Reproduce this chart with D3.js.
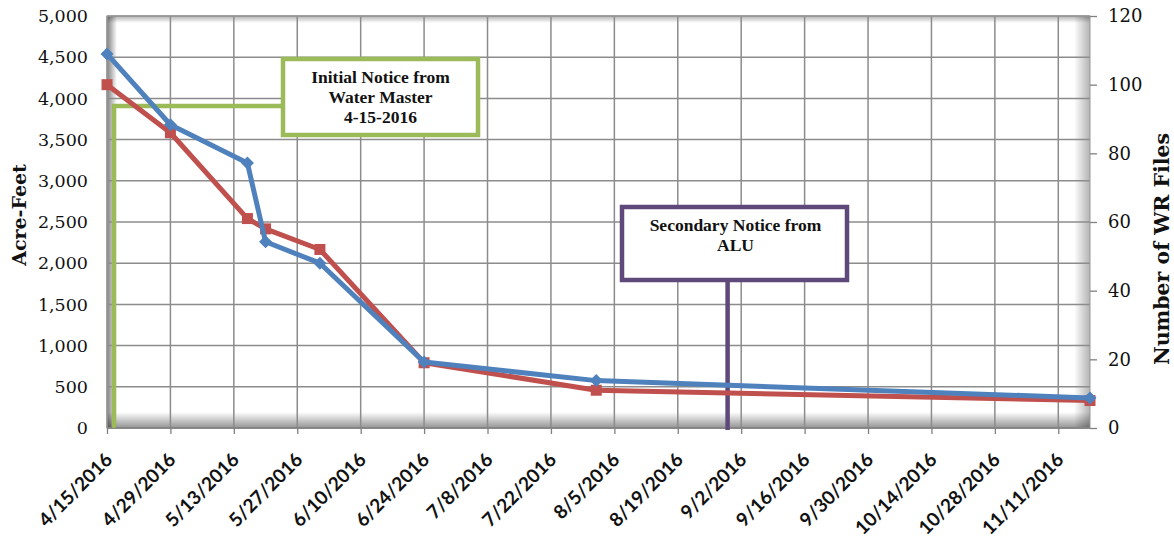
<!DOCTYPE html>
<html><head><meta charset="utf-8">
<script src="https://cdn.jsdelivr.net/npm/d3@7"></script>
<style>body{margin:0;background:#fff;overflow:hidden}</style>
</head><body><svg id="chart" width="1174" height="543"></svg>
<script>
// ---- data ----
const dates = ["2016-04-15","2016-04-29","2016-05-16","2016-05-20","2016-06-01","2016-06-24","2016-08-01","2016-11-18"];
const acreFeet = [4540, 3680, 3215, 2260, 2000, 800, 575, 365];
const wrFiles = [100, 86, 61, 58, 52, 19, 11, 8];
const xTickLabels = ["4/15/2016","4/29/2016","5/13/2016","5/27/2016","6/10/2016","6/24/2016","7/8/2016","7/22/2016","8/5/2016","8/19/2016","9/2/2016","9/16/2016","9/30/2016","10/14/2016","10/28/2016","11/11/2016"];
const leftTicks = [0,500,1000,1500,2000,2500,3000,3500,4000,4500,5000];
const rightTicks = [0,20,40,60,80,100,120];
const leftTitle = "Acre-Feet";
const rightTitle = "Number of WR Files";
const note1Lines = ["Initial Notice from","Water Master","4-15-2016"];
const note1Date = "2016-04-15";
const note2Lines = ["Secondary Notice from","ALU"];
const note2Date = "2016-08-30";

// ---- layout ----
const W = 1174, H = 543;
const plot = {l: 107, r: 1090, t: 16, b: 428};
const parse = d3.timeParse("%Y-%m-%d");
const tparse = d3.timeParse("%m/%d/%Y");
const svg = d3.select("#chart");

const x = d3.scaleTime().domain([parse("2016-04-15"), parse("2016-11-18")]).range([plot.l, plot.r]);
const yL = d3.scaleLinear().domain([0, 5000]).range([plot.b, plot.t]);
const yR = d3.scaleLinear().domain([0, 120]).range([plot.b, plot.t]);
const tickDates = xTickLabels.map(s => tparse(s));

const blueC = "#4F81BD", redC = "#C0504D", gridC = "#8c8c8c";
const serif = "'DejaVu Serif', serif";

// defs: shading gradients
const defs = svg.append("defs");
function grad(id, x1, y1, x2, y2, op) {
  const g = defs.append("linearGradient").attr("id", id)
    .attr("x1", x1).attr("y1", y1).attr("x2", x2).attr("y2", y2);
  g.append("stop").attr("offset", "0%").attr("stop-color", "#000").attr("stop-opacity", op);
  g.append("stop").attr("offset", "100%").attr("stop-color", "#000").attr("stop-opacity", 0);
}
grad("gL", "0", "0", "1", "0", 0.5);
grad("gR", "1", "0", "0", "0", 0.3);
grad("gT", "0", "0", "0", "1", 0.3);
grad("gB", "0", "1", "0", "0", 0.42);

// plot background
svg.append("rect").attr("x", plot.l).attr("y", plot.t).attr("width", plot.r - plot.l).attr("height", plot.b - plot.t).attr("fill", "#fff");
svg.append("rect").attr("x", plot.l).attr("y", plot.t).attr("width", 10).attr("height", plot.b - plot.t).attr("fill", "url(#gL)");
svg.append("rect").attr("x", plot.r - 16).attr("y", plot.t).attr("width", 16).attr("height", plot.b - plot.t).attr("fill", "url(#gR)");
svg.append("rect").attr("x", plot.l).attr("y", plot.t).attr("width", plot.r - plot.l).attr("height", 7).attr("fill", "url(#gT)");
svg.append("rect").attr("x", plot.l).attr("y", plot.b - 16).attr("width", plot.r - plot.l).attr("height", 16).attr("fill", "url(#gB)");

// gridlines
const grid = svg.append("g").attr("stroke", gridC).attr("stroke-width", 1.5);
grid.selectAll(".h").data(leftTicks).join("line")
  .attr("x1", plot.l).attr("x2", plot.r).attr("y1", d => yL(d)).attr("y2", d => yL(d));
grid.selectAll(".v").data(tickDates).join("line")
  .attr("x1", d => x(d)).attr("x2", d => x(d)).attr("y1", plot.t).attr("y2", plot.b);
// plot frame
svg.append("rect").attr("x", plot.l).attr("y", plot.t).attr("width", plot.r - plot.l).attr("height", plot.b - plot.t)
  .attr("fill", "none").attr("stroke", "#9a9a9a").attr("stroke-width", 1);

// x axis
const xAxis = d3.axisBottom(x).tickValues(tickDates).tickSize(6).tickFormat(d3.timeFormat("%-m/%-d/%Y"));
const gx = svg.append("g").attr("transform", `translate(0,${plot.b})`).call(xAxis);
gx.select(".domain").attr("stroke", "#808080").attr("stroke-width", 1.5).attr("d", `M${plot.l},0H${plot.r}`);
gx.selectAll(".tick line").attr("stroke", "#808080").attr("stroke-width", 1.3);
gx.selectAll(".tick text")
  .attr("font-family", "Lato, sans-serif").attr("font-weight", "bold").attr("font-size", 19).attr("fill", "#111")
  .attr("text-anchor", "end").attr("dy", null).attr("y", null)
  .attr("transform", "translate(6,33) rotate(-45)");

// left axis
const gl = svg.append("g").attr("transform", `translate(${plot.l},0)`)
  .call(d3.axisLeft(yL).tickValues(leftTicks).tickSize(0).tickPadding(19).tickFormat(d3.format(",")));
gl.select(".domain").remove();
gl.selectAll(".tick text").attr("font-family", serif).attr("font-size", 17.5).attr("fill", "#111");

// right axis
const gr = svg.append("g").attr("transform", `translate(${plot.r},0)`)
  .call(d3.axisRight(yR).tickValues(rightTicks).tickSize(7).tickPadding(11));
gr.select(".domain").remove();
gr.selectAll(".tick line").attr("stroke", "#808080").attr("stroke-width", 1.3);
gr.selectAll(".tick text").attr("font-family", serif).attr("font-size", 18).attr("fill", "#111");

// axis titles
svg.append("text").attr("transform", "translate(26,215) rotate(-90)").attr("text-anchor", "middle")
  .attr("font-family", serif).attr("font-weight", "bold").attr("font-size", 19).attr("fill", "#111").text(leftTitle);
svg.append("text").attr("transform", "translate(1169,249) rotate(-90)").attr("text-anchor", "middle")
  .attr("font-family", serif).attr("font-weight", "bold").attr("font-size", 20.5).attr("fill", "#111").text(rightTitle);

// annotations (drawn under data lines)
const green = "#9BBB59", purple = "#5F497A";
const n1x = x(parse(note1Date)) + 7;
const box1 = {x: 283, y: 59, w: 195, h: 76};
svg.append("path").attr("d", `M${box1.x},106H${n1x}V${plot.b - 2}`)
  .attr("fill", "none").attr("stroke", green).attr("stroke-width", 4.5).attr("stroke-linecap", "round");
svg.append("rect").attr("x", box1.x).attr("y", box1.y).attr("width", box1.w).attr("height", box1.h)
  .attr("fill", "#fff").attr("stroke", green).attr("stroke-width", 4.5);
svg.append("text").attr("font-family", "'Liberation Serif', serif").attr("font-weight", "bold").attr("font-size", 17.5)
  .attr("fill", "#111").attr("text-anchor", "middle")
  .selectAll("tspan").data(note1Lines).join("tspan")
  .attr("x", box1.x + box1.w / 2).attr("y", (d, i) => 83 + i * 20).text(d => d);

const n2x = x(parse(note2Date));
const box2 = {x: 622, y: 207, w: 225, h: 73};
svg.append("line").attr("x1", n2x).attr("x2", n2x).attr("y1", box2.y + box2.h).attr("y2", plot.b + 2)
  .attr("stroke", purple).attr("stroke-width", 4.5);
svg.append("rect").attr("x", box2.x).attr("y", box2.y).attr("width", box2.w).attr("height", box2.h)
  .attr("fill", "#fff").attr("stroke", purple).attr("stroke-width", 4.5);
svg.append("text").attr("font-family", "'Liberation Serif', serif").attr("font-weight", "bold").attr("font-size", 17.5)
  .attr("fill", "#111").attr("text-anchor", "middle")
  .selectAll("tspan").data(note2Lines).join("tspan")
  .attr("x", box2.x + box2.w / 2 + 1).attr("y", (d, i) => 231 + i * 20).text(d => d);

// series
const redData = dates.map((d, i) => ({d: parse(d), v: wrFiles[i]}));
const blueData = dates.map((d, i) => ({d: parse(d), v: acreFeet[i]}));

const redLine = d3.line().x(p => x(p.d)).y(p => yR(p.v));
const blueLine = d3.line().x(p => x(p.d)).y(p => yL(p.v));

svg.append("path").datum(redData).attr("d", redLine).attr("fill", "none")
  .attr("stroke", redC).attr("stroke-width", 5).attr("stroke-linejoin", "round");
svg.selectAll(".rm").data(redData).join("rect")
  .attr("x", p => x(p.d) - 5.5).attr("y", p => yR(p.v) - 5.5).attr("width", 11).attr("height", 11)
  .attr("fill", redC);

svg.append("path").datum(blueData).attr("d", blueLine).attr("fill", "none")
  .attr("stroke", blueC).attr("stroke-width", 5).attr("stroke-linejoin", "round");
svg.selectAll(".bm").data(blueData).join("path")
  .attr("d", p => { const cx = x(p.d), cy = yL(p.v), r = 6.5; return `M${cx},${cy - r}L${cx + r},${cy}L${cx},${cy + r}L${cx - r},${cy}Z`; })
  .attr("fill", blueC);
</script></body></html>
